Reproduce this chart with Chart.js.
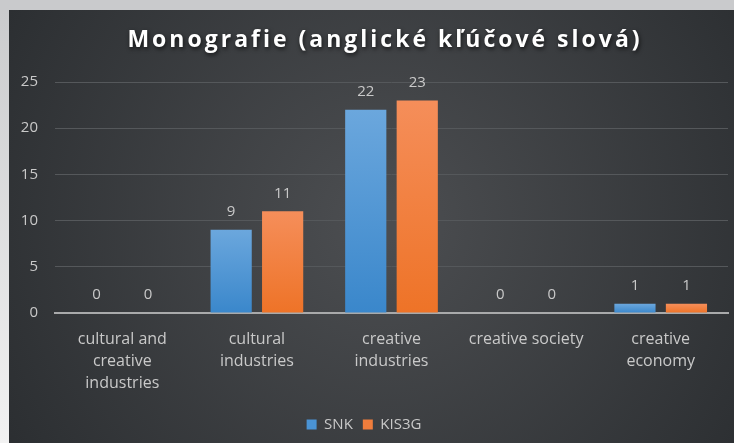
<!DOCTYPE html>
<html>
<head>
<meta charset="utf-8">
<script src="https://cdn.jsdelivr.net/npm/chart.js@4/dist/chart.umd.min.js"></script>
<style>
  html, body { margin: 0; padding: 0; background: #c9cacc; }
  #wrap { width: 734px; height: 443px; position: relative; }
</style>
</head>
<body>
<div id="wrap"><canvas id="chart-bar"></canvas></div>
<script>
var chartTitle = "Monografie (anglické kľúčové slová)";
var categories = [
    ["cultural and", "creative", "industries"],
    ["cultural", "industries"],
    ["creative", "industries"],
    "creative society",
    ["creative", "economy"]
];
var snk = [0, 9, 22, 0, 1];
var kis3g = [0, 11, 23, 0, 1];
var yTicks = [0, 5, 10, 15, 20, 25];

var txtColor = "#c9c9c9";
var font = "'Open Sans', 'Noto Sans', sans-serif";

// frame + dark panel behind the chart
var panelBg = {
    id: "panelBg",
    beforeDraw: function(chart) {
        var c = chart.ctx, w = chart.width, h = chart.height;
        c.save();
        c.fillStyle = "#c9cacc";
        c.fillRect(0, 0, w, h);
        var side = c.createLinearGradient(0, 0, 0, h);
        side.addColorStop(0, "#c9cacc");
        side.addColorStop(1, "#f2f2f2");
        c.fillStyle = side;
        c.fillRect(0, 10, 9, h - 10);
        var g = c.createRadialGradient(w * 0.52, h * 0.5, 20, w * 0.52, h * 0.5, w * 0.6);
        g.addColorStop(0, "#4b4d50");
        g.addColorStop(1, "#2b2e31");
        c.fillStyle = g;
        c.fillRect(9, 10, w - 9, h - 10);
        c.restore();
    }
};

// title with spacing and shadow like the original
var titlePlugin = {
    id: "titlePlugin",
    afterDraw: function(chart) {
        var c = chart.ctx;
        c.save();
        c.font = "bold 23px " + font;
        c.letterSpacing = "3px";
        c.textAlign = "center";
        c.textBaseline = "alphabetic";
        c.shadowColor = "rgba(0,0,0,0.7)";
        c.shadowBlur = 4;
        c.shadowOffsetX = 1;
        c.shadowOffsetY = 2;
        c.fillStyle = "#ffffff";
        c.fillText(chartTitle, 385, 47);
        c.restore();
    }
};

// value labels above bars
var valueLabels = {
    id: "valueLabels",
    afterDatasetsDraw: function(chart) {
        var c = chart.ctx;
        c.save();
        c.fillStyle = txtColor;
        c.font = "15px " + font;
        c.textAlign = "center";
        c.textBaseline = "middle";
        chart.data.datasets.forEach(function(ds, i) {
            chart.getDatasetMeta(i).data.forEach(function(bar, j) {
                c.fillText(ds.data[j], bar.x, bar.y - 18);
            });
        });
        c.restore();
    }
};

function barFill(top, bottom) {
    return function(context) {
        var chart = context.chart;
        if (!chart.chartArea || context.raw === undefined) return bottom;
        var y = chart.scales.y;
        var y0 = y.getPixelForValue(context.raw);
        var y1 = y.getPixelForValue(0);
        if (y1 - y0 < 1) return bottom;
        var g = chart.ctx.createLinearGradient(0, y0, 0, y1);
        g.addColorStop(0, top);
        g.addColorStop(1, bottom);
        return g;
    };
}

var ctx1 = document.getElementById("chart-bar").getContext("2d");

new Chart(ctx1, {
    type: "bar",
    data: {
        labels: categories,
        datasets: [{
            label: "SNK",
            data: snk,
            backgroundColor: barFill("#6ba7dd", "#3a87cb"),
            categoryPercentage: 0.765,
            barPercentage: 0.8
        }, {
            label: "KIS3G",
            data: kis3g,
            backgroundColor: barFill("#f58e5a", "#ee7327"),
            categoryPercentage: 0.765,
            barPercentage: 0.8
        }]
    },
    options: {
        responsive: true,
        maintainAspectRatio: false,
        animation: false,
        layout: {
            padding: { left: 0, right: 6, top: 82, bottom: 1 }
        },
        plugins: {
            title: { display: false },
            legend: {
                position: "bottom",
                labels: {
                    color: txtColor,
                    font: { family: font, size: 15 },
                    boxWidth: 10,
                    boxHeight: 10,
                    padding: 10,
                    generateLabels: function(chart) {
                        return chart.data.datasets.map(function(ds, i) {
                            return {
                                text: ds.label,
                                fillStyle: i === 0 ? "#4a93d4" : "#f07d3c",
                                strokeStyle: "transparent",
                                lineWidth: 0,
                                fontColor: txtColor,
                                datasetIndex: i
                            };
                        });
                    }
                }
            },
            tooltip: { enabled: false }
        },
        scales: {
            x: {
                grid: { display: false },
                border: { color: "#a9aaab", width: 2 },
                afterFit: function(axis) { axis.height = 94; },
                ticks: {
                    color: txtColor,
                    font: { family: font, size: 16, lineHeight: 1.35 },
                    maxRotation: 0,
                    autoSkip: false,
                    padding: 8
                }
            },
            y: {
                min: 0,
                max: 25,
                afterBuildTicks: function(axis) {
                    axis.ticks = yTicks.map(function(v) { return { value: v }; });
                },
                afterFit: function(axis) { axis.width = 55; },
                grid: { color: "#55585b", lineWidth: 1, drawTicks: false },
                border: { display: false },
                ticks: {
                    color: txtColor,
                    font: { family: font, size: 15 },
                    padding: 17
                }
            }
        }
    },
    plugins: [panelBg, valueLabels, titlePlugin]
});
</script>
</body>
</html>
